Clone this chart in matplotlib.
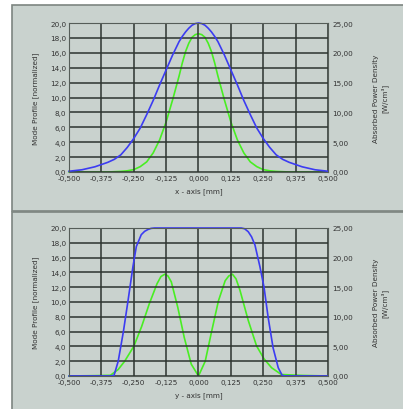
import matplotlib
matplotlib.use('Agg')
import matplotlib.pyplot as plt
from matplotlib.patches import Rectangle

# top panel: x profile
x_blue_top = [-0.5, -0.475, -0.45, -0.425, -0.4, -0.375, -0.35, -0.325, -0.3, -0.275, -0.25,
              -0.225, -0.2, -0.175, -0.15, -0.125, -0.1, -0.075, -0.0625, -0.05, -0.0375,
              -0.025, -0.0125, 0.0, 0.0125, 0.025, 0.0375, 0.05, 0.0625, 0.075, 0.1,
              0.125, 0.15, 0.175, 0.2, 0.225, 0.25, 0.275, 0.3, 0.325, 0.35,
              0.375, 0.4, 0.425, 0.45, 0.475, 0.5]
blue_top = [0.1, 0.2, 0.3, 0.5, 0.7, 1.0, 1.3, 1.7, 2.3, 3.3, 4.5,
            5.9, 7.7, 9.6, 11.7, 13.7, 15.7, 17.5, 18.2, 18.8, 19.3,
            19.7, 19.92, 20.0, 19.92, 19.7, 19.3, 18.8, 18.2, 17.5, 15.7,
            13.7, 11.7, 9.6, 7.7, 5.9, 4.5, 3.3, 2.3, 1.7, 1.3,
            1.0, 0.7, 0.5, 0.3, 0.2, 0.1]
x_green_top = [-0.5, -0.35, -0.325, -0.3, -0.275, -0.25, -0.225, -0.2, -0.175, -0.15, -0.125,
               -0.1, -0.0875, -0.075, -0.0625, -0.05, -0.0375, -0.025, -0.0125, 0.0, 0.0125,
               0.025, 0.0375, 0.05, 0.0625, 0.075, 0.0875, 0.1, 0.125, 0.15, 0.175,
               0.2, 0.225, 0.25, 0.275, 0.3, 0.325, 0.35, 0.5]
green_top = [0.0, 0.0, 0.05, 0.1, 0.2, 0.4, 0.9, 1.7, 3.2, 5.4, 8.4,
             12.1, 14.1, 16.1, 18.3, 20.2, 21.6, 22.6, 23.05, 23.2, 23.05,
             22.6, 21.6, 20.2, 18.3, 16.1, 14.1, 12.1, 8.4, 5.4, 3.2,
             1.7, 0.9, 0.4, 0.2, 0.1, 0.05, 0.0, 0.0]

# bottom panel: y profile
x_blue_bot = [-0.5, -0.34, -0.326, -0.31, -0.29, -0.272, -0.253, -0.24, -0.221, -0.208, -0.195,
              -0.183, -0.17, 0.0, 0.165, 0.178, 0.192, 0.205, 0.218, 0.237, 0.253,
              0.269, 0.288, 0.308, 0.323, 0.335, 0.5]
blue_bot = [0.0, 0.0, 0.1, 2.0, 6.0, 10.2, 14.8, 17.5, 19.1, 19.55, 19.8,
            19.95, 20.0, 20.0, 20.0, 19.9, 19.5, 18.8, 17.7, 14.8, 12.0,
            7.9, 3.8, 1.1, 0.1, 0.0, 0.0]
x_green_bot = [-0.5, -0.4, -0.34, -0.31, -0.285, -0.25, -0.22, -0.19, -0.16, -0.145, -0.13,
               -0.118, -0.105, -0.08, -0.055, -0.028, 0.0, 0.026, 0.051, 0.077, 0.103,
               0.117, 0.131, 0.145, 0.16, 0.192, 0.224, 0.253, 0.282, 0.32, 0.4, 0.5]
green_bot = [0.0, 0.06, 0.12, 1.1, 2.5, 5.0, 8.3, 12.2, 15.6, 16.8, 17.2,
             16.9, 15.9, 11.6, 6.5, 2.0, 0.0, 2.5, 7.6, 12.7, 16.1,
             16.9, 17.2, 16.4, 14.5, 9.4, 5.1, 2.9, 1.4, 0.25, 0.1, 0.0]

xticks = [-0.5, -0.375, -0.25, -0.125, 0.0, 0.125, 0.25, 0.375, 0.5]
xtick_labels = ['-0,500', '-0,375', '-0,250', '-0,125', '0,000', '0,125', '0,250', '0,375', '0,500']
left_ticks = [0, 2, 4, 6, 8, 10, 12, 14, 16, 18, 20]
right_ticks = [0, 5, 10, 15, 20, 25]

bg = '#c9d2ce'
grid_c = '#2c342f'
blue = '#3c3cf2'
green = '#48ee22'
fs = 5.2

fig = plt.figure(figsize=(4.03, 4.10), dpi=100)
fig.patch.set_facecolor('white')

# the two gray panels, kept behind the axes
fig.patches.append(Rectangle((12 / 403, 1 - 212 / 410), 1.0, 206 / 410, transform=fig.transFigure,
                             facecolor=bg, edgecolor='#7d8580', linewidth=1.2, zorder=-5))
fig.patches.append(Rectangle((12 / 403, -0.01), 1.0, 1 - 213 / 410 + 0.01, transform=fig.transFigure,
                             facecolor=bg, edgecolor='#7d8580', linewidth=1.2, zorder=-5))


def make_panel(rect, xb, yb, xg, yg, xlabel):
    ax = fig.add_axes(rect)
    ax.set_facecolor(bg)
    ax.set_xlim(-0.5, 0.5)
    ax.set_ylim(0, 20)
    ax.set_xticks(xticks)
    ax.set_xticklabels(xtick_labels)
    ax.set_yticks(left_ticks)
    ax.set_yticklabels([f'{v:.1f}'.replace('.', ',') for v in left_ticks])
    ax.grid(True, color=grid_c, linewidth=1.1)
    ax.set_axisbelow(True)
    ax.tick_params(length=0, pad=2, labelsize=fs, colors='#333')
    for s in ax.spines.values():
        s.set_color('#555d58')
        s.set_linewidth(0.8)
    ax.set_ylabel('Mode Profile [normalized]', fontsize=fs, color='#333', labelpad=8)
    ax.set_xlabel(xlabel, fontsize=fs, color='#333', labelpad=5)

    ax2 = ax.twinx()
    ax2.set_ylim(0, 25)
    ax2.set_yticks(right_ticks)
    ax2.set_yticklabels([f'{v:.2f}'.replace('.', ',') for v in right_ticks])
    ax2.tick_params(length=0, pad=3, labelsize=fs, colors='#333')
    for s in ax2.spines.values():
        s.set_visible(False)
    ax2.set_ylabel('Absorbed Power Density\n[W/cm³]', fontsize=fs, color='#333')
    ax2.yaxis.set_label_coords(1.175, 0.5)

    ax2.plot(xg, yg, color=green, linewidth=1.2, clip_on=False)
    ax.plot(xb, yb, color=blue, linewidth=1.2, clip_on=False)
    # left axes (grid + blue) above the green curve
    ax.set_zorder(ax2.get_zorder() + 1)
    ax.patch.set_visible(False)
    ax2.patch.set_visible(True)
    ax2.patch.set_facecolor(bg)
    return ax, ax2


make_panel([69 / 403, 1 - 173 / 410, 259 / 403, 149 / 410],
           x_blue_top, blue_top, x_green_top, green_top, 'x - axis [mm]')
make_panel([69 / 403, 1 - 377 / 410, 259 / 403, 148 / 410],
           x_blue_bot, blue_bot, x_green_bot, green_bot, 'y - axis [mm]')

fig.savefig('out.png', dpi=100)
